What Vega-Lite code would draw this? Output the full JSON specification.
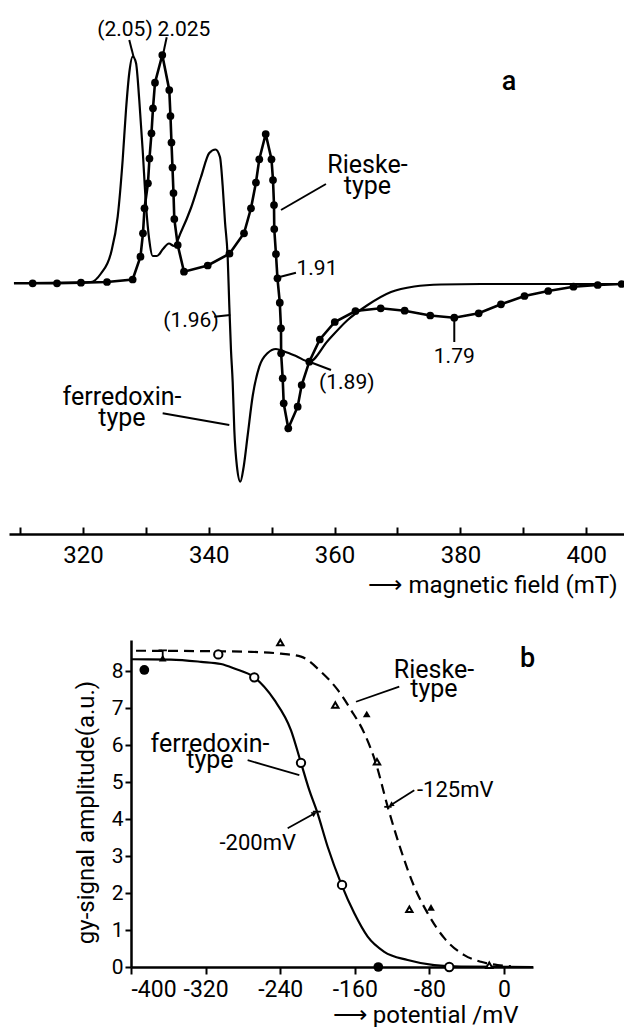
{
  "$schema": "https://vega.github.io/schema/vega-lite/v6.json",
  "padding": {"left": 8, "top": 0, "right": 0, "bottom": 0},
  "autosize": {"type": "pad"},
  "bounds": "flush",
  "spacing": 106,
  "config": {
    "font": "Roboto",
    "view": {"stroke": null},
    "axis": {"domainColor": "black", "tickColor": "black", "labelColor": "black", "titleColor": "black", "grid": false, "labelFont": "Roboto", "titleFont": "Roboto", "titleFontWeight": "normal", "domainWidth": 2.5, "tickWidth": 2}
  },
  "datasets": {
    "fdx": [
      {"B": 309.03, "amp": 0.1}, {"B": 321.27, "amp": 0.2}, {"B": 322.86, "amp": 1.05}, {"B": 324.45, "amp": 3.1},
      {"B": 325.52, "amp": 6.73}, {"B": 326.31, "amp": 12.4}, {"B": 326.84, "amp": 17.4}, {"B": 327.36, "amp": 21.1},
      {"B": 327.9, "amp": 22.73}, {"B": 328.43, "amp": 22.1}, {"B": 328.95, "amp": 18.4}, {"B": 329.49, "amp": 13.4},
      {"B": 330.02, "amp": 7.9}, {"B": 330.54, "amp": 4.4}, {"B": 331.08, "amp": 2.8}, {"B": 331.76, "amp": 2.8},
      {"B": 332.72, "amp": 3.5}, {"B": 333.67, "amp": 4.05}, {"B": 334.47, "amp": 3.8}, {"B": 335.58, "amp": 5.2},
      {"B": 337.17, "amp": 7.6}, {"B": 338.76, "amp": 10.7}, {"B": 340.08, "amp": 13.1}, {"B": 341.07, "amp": 13.45},
      {"B": 341.78, "amp": 12.7}, {"B": 342.21, "amp": 9.8}, {"B": 342.58, "amp": 6.2}, {"B": 343.01, "amp": 2.6},
      {"B": 343.26, "amp": -2.1}, {"B": 343.53, "amp": -6.6}, {"B": 343.8, "amp": -9.8}, {"B": 344.06, "amp": -14.6},
      {"B": 344.48, "amp": -18.27}, {"B": 345.01, "amp": -19.77}, {"B": 345.55, "amp": -18.27}, {"B": 346.19, "amp": -15.1},
      {"B": 346.98, "amp": -11.2}, {"B": 348.03, "amp": -8.27}, {"B": 349.37, "amp": -6.9}, {"B": 350.68, "amp": -6.5},
      {"B": 352.0, "amp": -6.75}, {"B": 353.86, "amp": -7.2}, {"B": 355.98, "amp": -7.77}, {"B": 358.9, "amp": -5.7},
      {"B": 362.08, "amp": -3.6}, {"B": 365.26, "amp": -2.1}, {"B": 368.97, "amp": -0.8}, {"B": 372.67, "amp": -0.25},
      {"B": 376.92, "amp": -0.05}, {"B": 383.28, "amp": 0}, {"B": 406.17, "amp": 0}
    ],
    "rsk": [
      {"B": 309.03, "amp": 0.07, "dot": 0}, {"B": 312.0, "amp": 0.07, "dot": 1}, {"B": 315.87, "amp": 0.07, "dot": 1},
      {"B": 319.68, "amp": 0.13, "dot": 1}, {"B": 323.82, "amp": 0.2, "dot": 1}, {"B": 327.9, "amp": 0.45, "dot": 1},
      {"B": 329.14, "amp": 2.73, "dot": 1}, {"B": 329.54, "amp": 5.07, "dot": 1}, {"B": 329.78, "amp": 7.57, "dot": 1},
      {"B": 330.33, "amp": 10.07, "dot": 1}, {"B": 330.57, "amp": 12.55, "dot": 1}, {"B": 330.89, "amp": 15.07, "dot": 1},
      {"B": 331.13, "amp": 17.57, "dot": 1}, {"B": 331.45, "amp": 20.13, "dot": 1}, {"B": 332.61, "amp": 22.9, "dot": 1},
      {"B": 333.72, "amp": 19.4, "dot": 1}, {"B": 333.91, "amp": 16.8, "dot": 1}, {"B": 334.07, "amp": 14.15, "dot": 1},
      {"B": 334.23, "amp": 11.65, "dot": 1}, {"B": 334.39, "amp": 9.1, "dot": 1}, {"B": 334.52, "amp": 6.5, "dot": 1},
      {"B": 335.06, "amp": 3.9, "dot": 1}, {"B": 336.06, "amp": 1.23, "dot": 1}, {"B": 339.83, "amp": 1.85, "dot": 1},
      {"B": 343.29, "amp": 3.03, "dot": 1}, {"B": 345.6, "amp": 5.07, "dot": 1}, {"B": 346.71, "amp": 7.57, "dot": 1},
      {"B": 347.5, "amp": 10.15, "dot": 1}, {"B": 348.03, "amp": 12.47, "dot": 1}, {"B": 349.05, "amp": 15.0, "dot": 1},
      {"B": 349.97, "amp": 12.47, "dot": 1}, {"B": 350.21, "amp": 10.4, "dot": 1}, {"B": 350.37, "amp": 7.9, "dot": 1},
      {"B": 350.41, "amp": 5.5, "dot": 1}, {"B": 350.68, "amp": 3.0, "dot": 1}, {"B": 350.92, "amp": 0.57, "dot": 1},
      {"B": 351.29, "amp": -1.87, "dot": 1}, {"B": 351.48, "amp": -4.43, "dot": 1}, {"B": 351.5, "amp": -6.93, "dot": 1},
      {"B": 351.75, "amp": -9.43, "dot": 1}, {"B": 351.91, "amp": -11.93, "dot": 1}, {"B": 352.64, "amp": -14.43, "dot": 1},
      {"B": 354.13, "amp": -12.27, "dot": 1}, {"B": 354.77, "amp": -10.1, "dot": 1}, {"B": 355.98, "amp": -7.77, "dot": 1},
      {"B": 357.65, "amp": -5.55, "dot": 1}, {"B": 360.03, "amp": -3.8, "dot": 1}, {"B": 363.32, "amp": -2.7, "dot": 1},
      {"B": 367.33, "amp": -2.43, "dot": 1}, {"B": 371.14, "amp": -2.67, "dot": 1}, {"B": 375.21, "amp": -3.15, "dot": 1},
      {"B": 379.03, "amp": -3.37, "dot": 1}, {"B": 382.91, "amp": -2.93, "dot": 1}, {"B": 386.45, "amp": -2.03, "dot": 1},
      {"B": 390.19, "amp": -1.2, "dot": 1}, {"B": 393.96, "amp": -0.7, "dot": 1}, {"B": 397.98, "amp": -0.27, "dot": 1},
      {"B": 401.83, "amp": -0.1, "dot": 1}, {"B": 405.64, "amp": 0, "dot": 1}, {"B": 406.17, "amp": 0, "dot": 0}
    ],
    "topLeaders": [
      {"B": 327.36, "amp": 24.4, "B2": 328.06, "amp2": 22.67},
      {"B": 333.31, "amp": 24.67, "B2": 332.77, "amp2": 23.07},
      {"B": 351.48, "amp": 7.4, "B2": 358.63, "amp2": 10.0},
      {"B": 350.95, "amp": 0.65, "B2": 353.86, "amp2": 1.13},
      {"B": 340.87, "amp": -3.27, "B2": 343.42, "amp2": -3.1},
      {"B": 332.67, "amp": -12.93, "B2": 343.26, "amp2": -14.1},
      {"B": 355.98, "amp": -7.77, "B2": 359.43, "amp2": -8.6},
      {"B": 379.03, "amp": -3.37, "B2": 379.03, "amp2": -5.8}
    ],
    "topLabels": [
      {"B": 326.68, "amp": 24.8, "text": "(2.05)", "kind": "gvalue"},
      {"B": 336.06, "amp": 24.8, "text": "2.025", "kind": "gvalue"},
      {"B": 387.73, "amp": 19.4, "text": "a", "kind": "panel"},
      {"B": 365.23, "amp": 11.1, "text": "Rieske-\ntype", "kind": "name"},
      {"B": 357.2, "amp": 0.9, "text": "1.91", "kind": "gvalue"},
      {"B": 337.17, "amp": -4.3, "text": "(1.96)", "kind": "gvalue"},
      {"B": 326.2, "amp": -12.1, "text": "ferredoxin-\ntype", "kind": "name"},
      {"B": 361.94, "amp": -10.5, "text": "(1.89)", "kind": "gvalue"},
      {"B": 379.03, "amp": -7.9, "text": "1.79", "kind": "gvalue"}
    ],
    "solid": [
      {"mV": -399.5, "amp": 8.32}, {"mV": -357.1, "amp": 8.31}, {"mV": -324.9, "amp": 8.25}, {"mV": -303.5, "amp": 8.19},
      {"mV": -289.2, "amp": 8.07}, {"mV": -267.8, "amp": 7.83}, {"mV": -246.3, "amp": 7.22}, {"mV": -228.4, "amp": 6.4},
      {"mV": -217.7, "amp": 5.52}, {"mV": -208.8, "amp": 4.78}, {"mV": -200.5, "amp": 4.2}, {"mV": -189.1, "amp": 3.25},
      {"mV": -174.8, "amp": 2.26}, {"mV": -160.5, "amp": 1.45}, {"mV": -146.2, "amp": 0.82}, {"mV": -128.4, "amp": 0.41},
      {"mV": -103.3, "amp": 0.19}, {"mV": -74.8, "amp": 0.05}, {"mV": -46.1, "amp": 0.01}, {"mV": 31.1, "amp": 0}
    ],
    "dashed": [
      {"mV": -394.6, "amp": 8.55}, {"mV": -324.9, "amp": 8.54}, {"mV": -271.3, "amp": 8.52}, {"mV": -239.1, "amp": 8.47},
      {"mV": -217.7, "amp": 8.39}, {"mV": -196.2, "amp": 7.98}, {"mV": -178.3, "amp": 7.49}, {"mV": -164.1, "amp": 6.95},
      {"mV": -149.8, "amp": 6.32}, {"mV": -137.3, "amp": 5.5}, {"mV": -124.7, "amp": 4.33}, {"mV": -110.5, "amp": 3.16},
      {"mV": -96.2, "amp": 2.17}, {"mV": -81.8, "amp": 1.45}, {"mV": -64.0, "amp": 0.78}, {"mV": -42.6, "amp": 0.32},
      {"mV": -24.7, "amp": 0.14}, {"mV": -6.8, "amp": 0.05}, {"mV": 7.5, "amp": 0.02}
    ],
    "markers": [
      {"mV": -385.7, "amp": 8.03, "sym": "filled circle"},
      {"mV": -366.0, "amp": 8.35, "sym": "filled triangle"},
      {"mV": -306.4, "amp": 8.45, "sym": "open circle"},
      {"mV": -267.8, "amp": 7.83, "sym": "open circle"},
      {"mV": -239.9, "amp": 8.77, "sym": "open triangle"},
      {"mV": -217.7, "amp": 5.52, "sym": "open circle"},
      {"mV": -180.9, "amp": 7.08, "sym": "open triangle"},
      {"mV": -147.2, "amp": 6.84, "sym": "filled triangle"},
      {"mV": -136.2, "amp": 5.55, "sym": "open triangle"},
      {"mV": -173.7, "amp": 2.22, "sym": "open circle"},
      {"mV": -101.5, "amp": 1.56, "sym": "open triangle"},
      {"mV": -78.3, "amp": 1.61, "sym": "filled triangle"},
      {"mV": -134.8, "amp": 0.0, "sym": "filled circle"},
      {"mV": -58.7, "amp": 0.0, "sym": "open circle"},
      {"mV": -15.8, "amp": 0.05, "sym": "open triangle"}
    ],
    "botSegments": [
      {"mV": -112.3, "amp": 7.58, "mV2": -158.7, "amp2": 7.17},
      {"mV": -274.9, "amp": 5.59, "mV2": -219.5, "amp2": 5.19},
      {"mV": -96.2, "amp": 4.78, "mV2": -121.2, "amp2": 4.38},
      {"mV": -232.0, "amp": 3.75, "mV2": -203.4, "amp2": 4.15},
      {"mV": -128.4, "amp": 4.33, "mV2": -120.5, "amp2": 4.33},
      {"mV": -205.0, "amp": 4.2, "mV2": -196.5, "amp2": 4.2},
      {"mV": -366.0, "amp": 8.35, "mV2": -366.0, "amp2": 8.56},
      {"mV": -370.5, "amp": 8.56, "mV2": -361.5, "amp2": 8.56}
    ],
    "arrowHeads": [
      {"mV": -203.4, "amp": 4.15, "label": "-200mV"},
      {"mV": -121.2, "amp": 4.38, "label": "-125mV"}
    ],
    "botLabels": [
      {"mV": 25.4, "amp": 8.12, "text": "b", "kind": "panel"},
      {"mV": -75.1, "amp": 7.81, "text": "Rieske-\ntype", "kind": "rieske"},
      {"mV": -315.3, "amp": 5.82, "text": "ferredoxin-\ntype", "kind": "ferredoxin"},
      {"mV": -52.3, "amp": 4.59, "text": "-125mV", "kind": "potential"},
      {"mV": -264.1, "amp": 3.16, "text": "-200mV", "kind": "potential"}
    ]
  },
  "vconcat": [
    {
      "width": 616,
      "height": 534,
      "encoding": {
        "x": {
          "field": "B", "type": "quantitative",
          "scale": {"domain": [308.24, 406.17], "nice": false, "zero": false},
          "axis": {
            "values": [310, 320, 330, 340, 350, 360, 370, 380, 390, 400],
            "labelExpr": "datum.value % 20 === 0 ? datum.label : ''",
            "tickSize": -7, "labelPadding": 16, "labelFontSize": 24,
            "title": "⟶ magnetic field (mT)", "titleFontSize": 24,
            "titleX": 608, "titleY": 58, "titleAlign": "right", "titleBaseline": "alphabetic"
          }
        },
        "y": {
          "field": "amp", "type": "quantitative",
          "scale": {"domain": [-25, 28.4], "nice": false, "zero": false},
          "axis": null
        }
      },
      "layer": [
        {"data": {"name": "fdx"}, "mark": {"type": "line", "color": "black", "strokeWidth": 2.2, "interpolate": "monotone"}},
        {"data": {"name": "rsk"}, "mark": {"type": "line", "color": "black", "strokeWidth": 2.6}},
        {"data": {"name": "rsk"}, "transform": [{"filter": "datum.dot == 1"}], "mark": {"type": "circle", "color": "black", "opacity": 1, "size": 60}},
        {"data": {"name": "topLeaders"}, "mark": {"type": "rule", "color": "black", "strokeWidth": 2},
          "encoding": {"x2": {"field": "B2"}, "y2": {"field": "amp2"}}},
        {"data": {"name": "topLabels"}, "transform": [{"filter": "datum.kind == 'gvalue'"}],
          "mark": {"type": "text", "align": "center", "baseline": "alphabetic", "color": "black", "font": "Roboto", "fontSize": 21},
          "encoding": {"text": {"field": "text"}}},
        {"data": {"name": "topLabels"}, "transform": [{"filter": "datum.kind == 'name'"}],
          "mark": {"type": "text", "align": "center", "baseline": "alphabetic", "color": "black", "font": "Roboto", "fontSize": 25, "lineBreak": "\n", "lineHeight": 20.5},
          "encoding": {"text": {"field": "text"}}},
        {"data": {"name": "topLabels"}, "transform": [{"filter": "datum.kind == 'panel'"}],
          "mark": {"type": "text", "align": "center", "baseline": "alphabetic", "color": "black", "font": "Roboto", "fontSize": 27, "fontWeight": 500},
          "encoding": {"text": {"field": "text"}}}
      ]
    },
    {
      "hconcat": [
        {"width": 122, "height": 10, "data": {"values": []}, "mark": "point"},
        {
          "width": 402,
          "height": 327,
          "encoding": {
            "x": {
              "field": "mV", "type": "quantitative",
              "scale": {"domain": [-400, 31.1], "nice": false, "zero": false},
              "axis": {
                "values": [-400, -320, -240, -160, -80, 0],
                "labelExpr": "'' + datum.value",
                "tickSize": 7, "labelPadding": 4, "labelFontSize": 23,
                "title": "⟶ potential /mV", "titleFontSize": 24,
                "titleX": 387, "titleY": 55, "titleAlign": "right", "titleBaseline": "alphabetic"
              }
            },
            "y": {
              "field": "amp", "type": "quantitative",
              "scale": {"domain": [0, 8.84], "nice": false, "zero": false},
              "axis": {
                "values": [0, 1, 2, 3, 4, 5, 6, 7, 8],
                "tickSize": 6, "labelPadding": 2, "labelFontSize": 21,
                "title": "gy-signal amplitude(a.u.)", "titleFontSize": 24,
                "titleX": -45, "titleY": 172, "titleAlign": "center", "titleBaseline": "middle"
              }
            }
          },
          "layer": [
            {"data": {"name": "solid"}, "mark": {"type": "line", "color": "black", "strokeWidth": 2.2, "interpolate": "monotone"}},
            {"data": {"name": "dashed"}, "mark": {"type": "line", "color": "black", "strokeWidth": 2.2, "strokeDash": [10, 6], "interpolate": "monotone"}},
            {"data": {"name": "botSegments"}, "mark": {"type": "rule", "color": "black", "strokeWidth": 1.8},
              "encoding": {"x2": {"field": "mV2"}, "y2": {"field": "amp2"}}},
            {"data": {"name": "arrowHeads"}, "transform": [{"filter": "datum.label == '-200mV'"}],
              "mark": {"type": "point", "shape": "triangle-up", "filled": true, "color": "black", "opacity": 1, "size": 34, "angle": 60.6}},
            {"data": {"name": "arrowHeads"}, "transform": [{"filter": "datum.label == '-125mV'"}],
              "mark": {"type": "point", "shape": "triangle-up", "filled": true, "color": "black", "opacity": 1, "size": 34, "angle": 237}},
            {"data": {"name": "markers"}, "transform": [{"filter": "datum.sym == 'filled circle'"}],
              "mark": {"type": "point", "shape": "circle", "filled": true, "color": "black", "opacity": 1, "size": 95}},
            {"data": {"name": "markers"}, "transform": [{"filter": "datum.sym == 'open circle'"}],
              "mark": {"type": "point", "shape": "circle", "fill": "white", "stroke": "black", "strokeWidth": 2, "opacity": 1, "size": 70}},
            {"data": {"name": "markers"}, "transform": [{"filter": "datum.sym == 'filled triangle'"}],
              "mark": {"type": "point", "shape": "triangle-up", "filled": true, "color": "black", "opacity": 1, "size": 60}},
            {"data": {"name": "markers"}, "transform": [{"filter": "datum.sym == 'open triangle'"}],
              "mark": {"type": "point", "shape": "triangle-up", "fill": "white", "stroke": "black", "strokeWidth": 2, "opacity": 1, "size": 40}},
            {"data": {"name": "botLabels"}, "transform": [{"filter": "datum.kind == 'potential'"}],
              "mark": {"type": "text", "align": "center", "baseline": "alphabetic", "color": "black", "font": "Roboto", "fontSize": 22},
              "encoding": {"text": {"field": "text"}}},
            {"data": {"name": "botLabels"}, "transform": [{"filter": "datum.kind == 'rieske'"}],
              "mark": {"type": "text", "align": "center", "baseline": "alphabetic", "color": "black", "font": "Roboto", "fontSize": 25, "lineBreak": "\n", "lineHeight": 19},
              "encoding": {"text": {"field": "text"}}},
            {"data": {"name": "botLabels"}, "transform": [{"filter": "datum.kind == 'ferredoxin'"}],
              "mark": {"type": "text", "align": "center", "baseline": "alphabetic", "color": "black", "font": "Roboto", "fontSize": 25, "lineBreak": "\n", "lineHeight": 16},
              "encoding": {"text": {"field": "text"}}},
            {"data": {"name": "botLabels"}, "transform": [{"filter": "datum.kind == 'panel'"}],
              "mark": {"type": "text", "align": "center", "baseline": "alphabetic", "color": "black", "font": "Roboto", "fontSize": 27, "fontWeight": 500},
              "encoding": {"text": {"field": "text"}}}
          ]
        }
      ],
      "spacing": 0,
      "bounds": "flush"
    }
  ]
}
